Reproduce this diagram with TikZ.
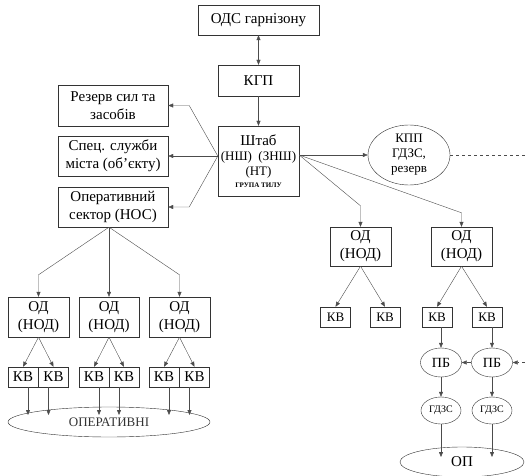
\documentclass[tikz,border=0pt]{standalone}
\usepackage{fontspec}
\setmainfont{Liberation Serif}
\newfontfamily\tnr{Liberation Serif}
\usetikzlibrary{arrows.meta,calc,shapes.geometric}
\newcommand{\fsz}[1]{\tnr\fontsize{#1}{#1}\selectfont}
\tikzset{
  box/.style={draw=black!80, fill=white, align=center, inner sep=1pt, font=\fsz{15}},
  kv/.style={box, minimum width=30, minimum height=20, font=\fsz{15}},
  oval/.style={ellipse, draw=black!80, fill=white, align=center, inner sep=0pt},
  link/.style={-{Triangle[length=5pt,width=4pt]}, black!70},
  both link/.style={{Triangle[length=5pt,width=4pt]}-{Triangle[length=5pt,width=4pt]}, black!70},
  dashed link/.style={link, dashed},
}

\begin{document}
\begin{tikzpicture}[x=1pt, y=-1pt]
  \useasboundingbox (0,0) rectangle (525,476);

  % Top chain
  \node[box, minimum width=121, minimum height=30] (ods) at (258.5,20) {ОДС гарнізону};
  \node[box, minimum width=81, minimum height=31] (kgp) at (258.5,80.5) {КГП};
  \node[box, minimum width=81, minimum height=70, font=\fsz{13}] (shtab) at (258.5,161)
    {{\fsz{15}Штаб}\\[2pt](НШ)~~(ЗНШ)\\[2pt](НТ)\\[-1pt]{\fsz{7}\bfseries ГРУПА ТИЛУ}};

  % Side boxes
  \node[box, minimum width=110, minimum height=41] (rez) at (113,105.5) {Резерв сил та\\[3pt]засобів};
  \node[box, minimum width=110, minimum height=40] (spec) at (113,156) {Спец. служби\\[3pt]міста (об’єкту)};
  \node[box, minimum width=110, minimum height=40] (sector) at (113,207) {Оперативний\\[3pt]сектор (НОС)};
  \node[oval, minimum width=82, minimum height=60, font=\fsz{13}] (kpp) at (409,155) {КПП\\[2pt]ГДЗС,\\[2pt]резерв};

  % Right branch
  \node[box, minimum width=61, minimum height=39] (od1) at (360.5,246.5) {ОД\\[3pt](НОД)};
  \node[box, minimum width=61, minimum height=39] (od2) at (461.5,246.5) {ОД\\[3pt](НОД)};
  \node[kv, font=\fsz{13}] (kv1) at (335.5,317) {КВ};
  \node[kv, font=\fsz{13}] (kv2) at (385,317) {КВ};
  \node[kv, font=\fsz{13}] (kv3) at (437,317) {КВ};
  \node[kv, font=\fsz{13}] (kv4) at (487,317) {КВ};
  \node[oval, minimum width=41, minimum height=29, font=\fsz{14}] (pb1) at (441,362.5) {ПБ};
  \node[oval, minimum width=41, minimum height=29, font=\fsz{14}] (pb2) at (492,362.5) {ПБ};
  \node[oval, minimum width=40, minimum height=27, font=\fsz{10}] (gd1) at (441,410.5) {ГДЗС};
  \node[oval, minimum width=40, minimum height=27, font=\fsz{10}] (gd2) at (492,410.5) {ГДЗС};
  \node[oval, minimum width=124, minimum height=30, font=\fsz{15}] (op) at (462,462) {ОП};

  % Left branch
  \node[box, minimum width=61, minimum height=40] (l1) at (38.5,317) {ОД\\[3pt](НОД)};
  \node[box, minimum width=60, minimum height=40] (l2) at (109,317) {ОД\\[3pt](НОД)};
  \node[box, minimum width=61, minimum height=40] (l3) at (179.5,317) {ОД\\[3pt](НОД)};
  \node[kv] (ka1) at (23,377) {КВ};
  \node[kv] (kb1) at (53.5,377) {КВ};
  \node[kv] (ka2) at (94,377) {КВ};
  \node[kv] (kb2) at (124,377) {КВ};
  \node[kv] (ka3) at (164,377) {КВ};
  \node[kv] (kb3) at (194.5,377) {КВ};
  \node[oval, minimum width=202, minimum height=30, font=\fsz{13}, text=black!80] (ops) at (109,422) {ОПЕРАТИВНІ};

  % Connectors, top
  \draw[both link] (ods) -- (kgp);
  \draw[link] (kgp) -- (shtab);
  \coordinate (sl) at (shtab.west |- spec.east);
  \draw[link] (sl) -- ([xshift=21]rez.east) -- (rez.east);
  \draw[link] (sl) -- (spec.east);
  \draw[link] (sl) -- ([xshift=21]sector.east) -- (sector.east);
  \coordinate (sr) at (shtab.east |- kpp.west);
  \draw[link] (sr) -- (kpp.west);
  \coordinate (dashend) at (525,155);
  \draw[dashed, black!70] (kpp.east) -- (dashend);
  \draw[link] (sr) -- ([yshift=21]od1.north) -- (od1.north);
  \draw[link] (sr) -- ([yshift=14]od2.north) -- (od2.north);

  % Connectors, right
  \foreach \o/\a/\b in {od1/kv1/kv2, od2/kv3/kv4} {
    \draw[link] (\o.south) -- (\a.north);
    \draw[link] (\o.south) -- (\b.north);
  }
  \draw[link] (kv3.south -| pb1.north) -- (pb1.north);
  \draw[link] (kv4.south -| pb2.north) -- (pb2.north);
  \draw[link] (pb2) -- (pb1);
  \coordinate (pbin) at (525,362.5);
  \draw[dashed link] (pbin) -- (pb2);
  \draw[link] (pb1) -- (gd1);
  \draw[link] (pb2) -- (gd2);
  \draw[link, shorten >=5pt] (gd1.south) -- (gd1.south |- op.center);
  \draw[link, shorten >=5pt] (gd2.south) -- (gd2.south |- op.center);

  % Connectors, left
  \coordinate (ss) at (sector.south -| l2.north);
  \draw[link] (ss) -- ([yshift=22]l1.north) -- (l1.north);
  \draw[link] (ss) -- (l2.north);
  \draw[link] (ss) -- ([yshift=22]l3.north) -- (l3.north);
  \foreach \o/\a/\b in {l1/ka1/kb1, l2/ka2/kb2, l3/ka3/kb3} {
    \draw[link] (\o.south) -- (\a.north);
    \draw[link] (\o.south) -- (\b.north);
    \draw[link, shorten >=7pt] ($(\a.south)+(5,0)$) -- ($(\a.south |- ops.center)+(5,0)$);
    \draw[link, shorten >=7pt] ($(\b.south)+(-5,0)$) -- ($(\b.south |- ops.center)+(-5,0)$);
  }
\end{tikzpicture}
\end{document}
